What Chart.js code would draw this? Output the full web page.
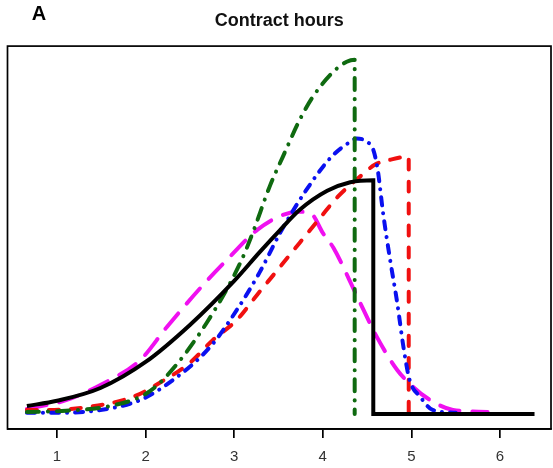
<!DOCTYPE html>
<html>
<head>
<meta charset="utf-8">
<script src="https://cdn.jsdelivr.net/npm/chart.js@4/dist/chart.umd.min.js"></script>
<style>
  html, body { margin: 0; padding: 0; background: #fff; }
  #wrap { width: 553px; height: 468px; }
</style>
</head>
<body>
<div id="wrap"><canvas id="c" width="553" height="468"></canvas></div>
<script>
// ---- data ----
const TITLE = "Contract hours";
const PANEL = "A";
const xTicks = [1, 2, 3, 4, 5, 6];

const blackX = [0.66, 1.0, 1.49, 2.0, 2.5, 3.0, 3.29, 3.52, 3.74, 4.05, 4.31, 4.57, 4.57, 6.39];
const blackY = [0.02, 0.033, 0.065, 0.13, 0.2225, 0.3325, 0.405, 0.46, 0.51, 0.5575, 0.579, 0.584, 0, 0];

const greenX = [0.66, 1.1, 1.6, 2.0, 2.25, 2.69, 3.07, 3.21, 3.4, 3.55, 3.74, 3.89, 4.12, 4.27, 4.36, 4.36];
const greenY = [0.005, 0.008, 0.02, 0.05, 0.098, 0.228, 0.378, 0.453, 0.568, 0.643, 0.735, 0.793, 0.855, 0.88, 0.885, 0];

const blueX = [0.66, 1.0, 1.49, 1.94, 2.31, 2.73, 3.03, 3.29, 3.52, 3.8, 4.1, 4.31, 4.38, 4.5, 4.57, 4.62, 4.68, 4.76, 4.84, 4.91, 4.98, 5.1, 5.24, 5.5];
const blueY = [0.003, 0.003, 0.01, 0.035, 0.085, 0.168, 0.26, 0.355, 0.453, 0.555, 0.643, 0.68, 0.688, 0.68, 0.66, 0.61, 0.503, 0.385, 0.278, 0.168, 0.085, 0.043, 0.01, 0.003];

const redX = [0.66, 0.92, 1.37, 1.86, 2.16, 2.5, 2.76, 3.03, 3.26, 3.49, 3.74, 3.97, 4.17, 4.42, 4.59, 4.76, 4.97, 4.97];
const redY = [0.01, 0.01, 0.018, 0.043, 0.078, 0.128, 0.185, 0.235, 0.298, 0.36, 0.428, 0.49, 0.543, 0.593, 0.623, 0.635, 0.643, 0];

const magentaX = [0.66, 1.11, 1.49, 1.94, 2.24, 2.67, 2.95, 3.26, 3.55, 3.74, 3.87, 4.0, 4.12, 4.39, 4.61, 4.84, 5.02, 5.21, 5.47, 5.86];
const magentaY = [0.0125, 0.035, 0.0725, 0.135, 0.2175, 0.3275, 0.3925, 0.46, 0.4975, 0.505, 0.5, 0.4525, 0.415, 0.2925, 0.1925, 0.11, 0.0675, 0.035, 0.01, 0.005];

const pts = (X, Y) => X.map((x, i) => ({ x: x, y: Y[i] }));

const FONT = "'Liberation Sans', Arial, Helvetica, sans-serif";

const boxPlugin = {
  id: 'box',
  afterDatasetsDraw(chart) {
    const { ctx, chartArea: a } = chart;
    ctx.save();
    ctx.strokeStyle = '#000';
    ctx.lineWidth = 1.7;
    ctx.strokeRect(a.left, a.top, a.right - a.left, a.bottom - a.top);
    ctx.restore();
  },
  afterDraw(chart) {
    const { ctx } = chart;
    ctx.save();
    ctx.fillStyle = '#000';
    ctx.font = "bold 20px " + FONT;
    ctx.textAlign = 'center';
    ctx.textBaseline = 'middle';
    ctx.fillText(PANEL, 39, 14);
    ctx.restore();
  }
};

const common = { pointRadius: 0, borderWidth: 4, fill: false, cubicInterpolationMode: 'monotone', borderCapStyle: 'round', borderJoinStyle: 'round' };

new Chart(document.getElementById('c'), {
  type: 'line',
  data: {
    datasets: [
      Object.assign({ label: 'black', data: pts(blackX, blackY), borderColor: '#000000' }, common, { borderCapStyle: 'butt', borderJoinStyle: 'miter' }),
      Object.assign({ label: 'green', data: pts(greenX, greenY), borderColor: '#0f6a10', borderDash: [12, 9, 0.1, 9] }, common),
      Object.assign({ label: 'blue', data: pts(blueX, blueY), borderColor: '#0a10f0', borderDash: [8, 8, 0.1, 8] }, common),
      Object.assign({ label: 'red', data: pts(redX, redY), borderColor: '#f01010', borderDash: [10, 12] }, common),
      Object.assign({ label: 'magenta', data: pts(magentaX, magentaY), borderColor: '#f010f0', borderDash: [20, 13] }, common)
    ]
  },
  options: {
    responsive: false,
    animation: false,
    events: [],
    layout: { padding: { left: 7.5, right: 2, top: 0, bottom: 0 } },
    plugins: {
      legend: { display: false },
      tooltip: { enabled: false },
      title: {
        display: true,
        text: TITLE,
        color: '#111',
        font: { family: FONT, size: 18, weight: 'bold', lineHeight: 1.2 },
        padding: { top: 10, bottom: 14.5 }
      }
    },
    scales: {
      x: {
        type: 'linear',
        min: 0.441,
        max: 6.576,
        afterBuildTicks: (s) => { s.ticks = xTicks.map(v => ({ value: v })); },
        afterFit: (s) => { s.height = 39; },
        ticks: { color: '#333', font: { family: FONT, size: 15 }, padding: 10, autoSkip: false, maxRotation: 0, callback: (v) => String(v) },
        grid: { display: true, drawOnChartArea: false, drawTicks: true, tickLength: 9, color: '#000', lineWidth: 1.7 },
        border: { display: true, color: '#000', width: 1.7 }
      },
      y: {
        type: 'linear',
        display: false,
        min: -0.0375,
        max: 0.919
      }
    }
  },
  plugins: [boxPlugin]
});
</script>
</body>
</html>
